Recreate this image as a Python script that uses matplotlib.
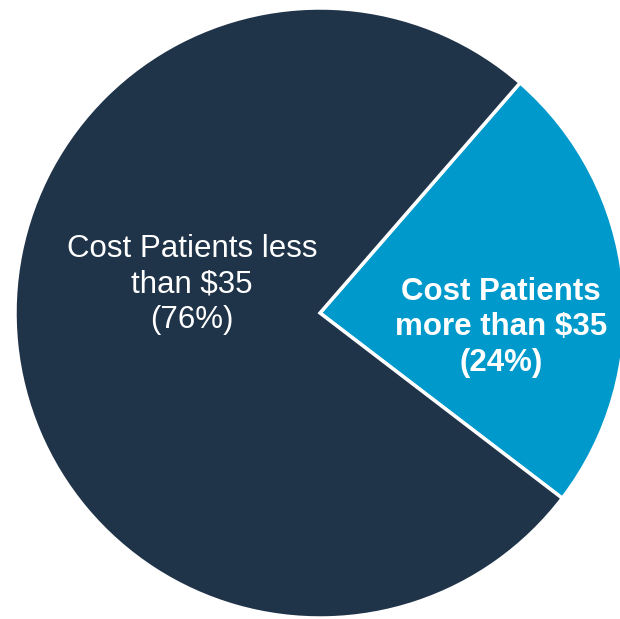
"""Pie chart: share of patients paying more or less than $35."""

import matplotlib

matplotlib.use("Agg")

import matplotlib.pyplot as plt

labels = ["Cost Patients\nmore than $35\n(24%)", "Cost Patients less\nthan $35\n(76%)"]
shares = [24, 76]
colors = ["#0099CC", "#1F3349"]

plt.rcParams["font.family"] = ["Liberation Sans", "DejaVu Sans"]

fig = plt.figure(figsize=(6.20, 6.19), dpi=100)
axis = fig.add_axes([0, 0, 1, 1])
wedges, _ = axis.pie(
    shares,
    colors=colors,
    startangle=49,
    counterclock=False,
    radius=1.0,
    wedgeprops={"edgecolor": "white", "linewidth": 2.5},
)
axis.set_xlim(-320 / 305, 300 / 305)
axis.set_ylim(-306 / 305, 313 / 305)
axis.set_aspect("equal")
axis.axis("off")

axis.text(0.593, -0.046, labels[0], color="white", fontsize=22.5,
          fontweight="bold", ha="center", va="center", linespacing=1.24)
axis.text(-0.42, 0.095, labels[1], color="white", fontsize=22.5,
          ha="center", va="center", linespacing=1.24)

fig.savefig("out.png", dpi=100)
plt.close(fig)
